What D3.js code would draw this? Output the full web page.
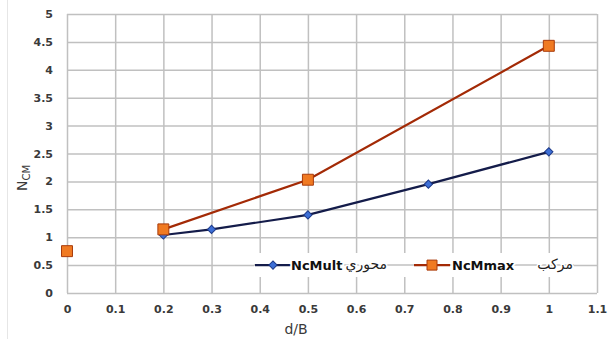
<!DOCTYPE html>
<html>
<head>
<meta charset="utf-8">
<script src="https://cdn.jsdelivr.net/npm/d3@7"></script>
<style>
  body { margin: 0; background: #fff; }
  #vis-container { width: 609px; height: 339px; }
  .axis path { display: none; }
  .axis line { stroke: #c0c0c0; stroke-width: 1.5; }
  .axis text { font-family: "DejaVu Sans", sans-serif; font-size: 11px; fill: #3a3a3a; }
</style>
</head>
<body>
<div id="vis-container"></div>
<script>
"use strict";

// Data
const xTicks = [0, 0.1, 0.2, 0.3, 0.4, 0.5, 0.6, 0.7, 0.8, 0.9, 1, 1.1];
const yTicks = [0, 0.5, 1, 1.5, 2, 2.5, 3, 3.5, 4, 4.5, 5];

const multX = [0.2, 0.3, 0.5, 0.75, 1.0];
const multY = [1.04, 1.14, 1.40, 1.95, 2.53];

// null breaks the line between the first point and the rest
const maxX = [0, 0.1, 0.2, 0.5, 1.0];
const maxY = [0.75, null, 1.14, 2.03, 4.43];

const seriesNames = ["NcMult", "NcMmax"];
const seriesArabic = ["محوري", "مركب"];

function mainIndex()
{
    const margin = { top: 14, right: 12, bottom: 46, left: 67 };
    const dims = {
        width: 609 - margin.left - margin.right,
        height: 339 - margin.top - margin.bottom
    };

    const x = d3.scaleLinear().domain([0, 1.1]).range([0, dims.width]);
    const y = d3.scaleLinear().domain([0, 5]).range([dims.height, 0]);

    const svgRoot = d3.select("#vis-container")
        .append("svg")
        .attr("width", 609)
        .attr("height", 339);

    // faint outer frame edge
    svgRoot.append("line")
        .attr("x1", 7.5).attr("x2", 7.5)
        .attr("y1", 0).attr("y2", 339)
        .attr("stroke", "#e6e6e6");

    const svg = svgRoot.append("g")
        .attr("transform", `translate(${margin.left},${margin.top})`);

    // Gridlines + tick labels
    svg.append("g")
        .attr("class", "x axis")
        .attr("transform", `translate(0,${dims.height})`)
        .call(d3.axisBottom(x).tickValues(xTicks).tickSize(-dims.height).tickPadding(12).tickFormat(d3.format("~g")));

    svg.append("g")
        .attr("class", "y axis")
        .call(d3.axisLeft(y).tickValues(yTicks).tickSize(-dims.width).tickPadding(14).tickFormat(d3.format("~g")));

    svg.selectAll(".axis text").style("font-weight", "600");

    // Axis titles
    svgRoot.append("text")
        .attr("x", 296)
        .attr("y", 334)
        .attr("text-anchor", "middle")
        .style("font-family", "DejaVu Sans, sans-serif")
        .style("font-size", "14px")
        .style("fill", "#3a3a3a")
        .text("d/B");

    const yTitle = svgRoot.append("text")
        .attr("transform", "translate(27,191) rotate(-90)")
        .style("font-family", "DejaVu Sans, sans-serif")
        .style("font-size", "14px")
        .style("fill", "#3a3a3a");
    yTitle.append("tspan").text("N");
    yTitle.append("tspan").attr("dy", 3).style("font-size", "10px").text("CM");

    const multData = multX.map((d, i) => ({ x: d, y: multY[i] }));
    const maxData = maxX.map((d, i) => ({ x: d, y: maxY[i] }));

    const line = d3.line()
        .defined(d => d.y !== null)
        .x(d => x(d.x))
        .y(d => y(d.y));

    // NcMult line (navy) with blue diamonds
    svg.append("path")
        .datum(multData)
        .attr("fill", "none")
        .attr("stroke", "#141c4a")
        .attr("stroke-width", 2.2)
        .attr("d", line);

    // NcMmax line (dark red) with orange squares
    svg.append("path")
        .datum(maxData)
        .attr("fill", "none")
        .attr("stroke", "#a32a06")
        .attr("stroke-width", 2.2)
        .attr("d", line);

    const diamond = d3.symbol().type(d3.symbolSquare).size(34);
    const square = d3.symbol().type(d3.symbolSquare).size(120);

    svg.selectAll(".mult-pt")
        .data(multData)
        .enter()
        .append("path")
        .attr("class", "mult-pt")
        .attr("transform", d => `translate(${x(d.x)},${y(d.y)}) rotate(45)`)
        .attr("d", diamond)
        .attr("fill", "#3d6fd6")
        .attr("stroke", "#1d3a8a")
        .attr("stroke-width", 1);

    svg.selectAll(".max-pt")
        .data(maxData.filter(d => d.y !== null))
        .enter()
        .append("path")
        .attr("class", "max-pt")
        .attr("transform", d => `translate(${x(d.x)},${y(d.y)})`)
        .attr("d", square)
        .attr("fill", "#f07a22")
        .attr("stroke", "#a83a0a")
        .attr("stroke-width", 1);

    // Legend inside plot area
    const legend = svgRoot.append("g").attr("id", "legend");
    legend.append("rect")
        .attr("x", 254).attr("y", 253)
        .attr("width", 320).attr("height", 24)
        .attr("fill", "#fff");
    legend.append("line")
        .attr("x1", 254).attr("x2", 574)
        .attr("y1", margin.top + y(0.5)).attr("y2", margin.top + y(0.5))
        .attr("stroke", "#c0c0c0").attr("stroke-width", 1.5);

    const items = [
        { lx: 255, tx: 291, ax: 387, stroke: "#141c4a", sym: diamond, rot: 45, fill: "#3d6fd6", edge: "#1d3a8a" },
        { lx: 414, tx: 452, ax: 573, stroke: "#a32a06", sym: d3.symbol().type(d3.symbolSquare).size(100), rot: 0, fill: "#f07a22", edge: "#a83a0a" }
    ];
    const ly = margin.top + y(0.5);

    items.forEach((it, i) => {
        legend.append("line")
            .attr("x1", it.lx).attr("x2", it.lx + 36)
            .attr("y1", ly).attr("y2", ly)
            .attr("stroke", it.stroke).attr("stroke-width", 2.2);
        legend.append("path")
            .attr("transform", `translate(${it.lx + 18},${ly}) rotate(${it.rot})`)
            .attr("d", it.sym)
            .attr("fill", it.fill)
            .attr("stroke", it.edge);
        legend.append("text")
            .attr("x", it.tx).attr("y", ly + 5)
            .style("font-family", "DejaVu Sans, sans-serif")
            .style("font-size", "13px")
            .style("font-weight", "bold")
            .style("fill", "#111")
            .attr("stroke", "#fff").attr("stroke-width", 4).attr("paint-order", "stroke")
            .text(seriesNames[i]);
        legend.append("text")
            .attr("x", it.ax).attr("y", ly + 4)
            .attr("text-anchor", "end")
            .style("font-family", "DejaVu Sans, sans-serif")
            .style("font-size", "14px")
            .style("fill", "#222")
            .attr("stroke", "#fff").attr("stroke-width", 3).attr("paint-order", "stroke")
            .text(seriesArabic[i]);
    });
}

document.addEventListener("DOMContentLoaded", mainIndex);
</script>
</body>
</html>
